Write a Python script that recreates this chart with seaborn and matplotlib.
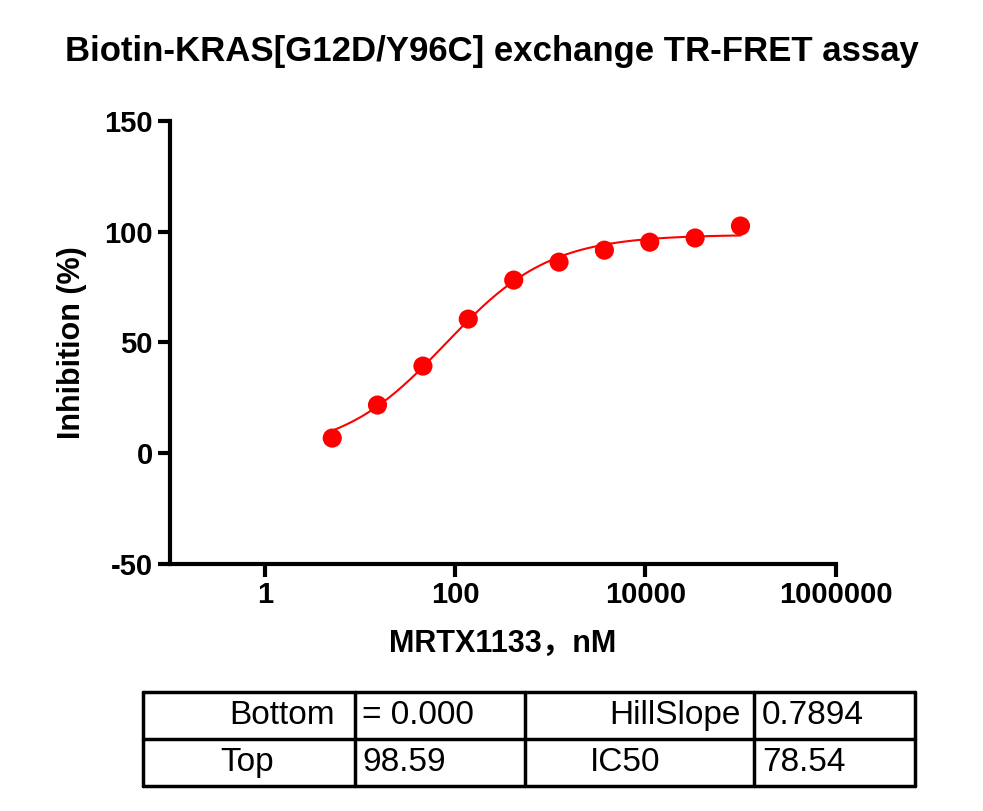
import numpy as np
import pandas as pd
import matplotlib.pyplot as plt
import seaborn as sns
from matplotlib.lines import Line2D

sns.set_style("ticks")
plt.rcParams['font.family'] = ['Liberation Sans', 'DejaVu Sans']
plt.rcParams['axes.unicode_minus'] = False
plt.rcParams['text.color'] = 'black'
plt.rcParams['axes.labelcolor'] = 'black'
plt.rcParams['xtick.color'] = 'black'
plt.rcParams['ytick.color'] = 'black'
plt.rcParams['axes.edgecolor'] = 'black'

# concentrations (nM) and inhibition (%)
conc = [5.08, 15.2, 45.7, 137, 412, 1235, 3704, 11111, 33333, 100000]
inhibition = [6.8, 21.7, 39.3, 60.5, 78.1, 86.2, 91.6, 95.2, 97.1, 102.5]

# fit parameters
bottom, top, hill, ic50 = 0.0, 98.59, 0.7894, 78.54
table_rows = [["Bottom", "= 0.000", "HillSlope", "0.7894"],
              ["Top", "98.59", "IC50", "78.54"]]

df = pd.DataFrame({"conc": conc, "inh": inhibition})
xs = np.logspace(np.log10(min(conc)), np.log10(max(conc)), 300)
fit = pd.DataFrame({"conc": xs,
                    "inh": bottom + (top - bottom) / (1 + (ic50 / xs) ** hill)})

fig = plt.figure(figsize=(9.83, 8.11), dpi=100)
ax = fig.add_axes([0.173, 0.3046, 0.677, 0.5465])
sns.lineplot(data=fit, x="conc", y="inh", color="#ff0000", lw=1.5, ax=ax)
sns.scatterplot(data=df, x="conc", y="inh", color="#ff0000", s=190,
                edgecolor="none", ax=ax, zorder=3)
ax.set_xscale("log")
ax.set_xlim(0.1, 1e6)
ax.set_ylim(-50, 150)
ax.set_xticks([1, 100, 10000, 1000000])
ax.set_xticklabels(["1", "100", "10000", "1000000"])
ax.minorticks_off()
ax.set_yticks([-50, 0, 50, 100, 150])
for s in ["top", "right"]:
    ax.spines[s].set_visible(False)
for s in ["left", "bottom"]:
    ax.spines[s].set_linewidth(3)
ax.tick_params(width=3, length=9, labelsize=21, direction="out")
for t in ax.get_xticklabels() + ax.get_yticklabels():
    t.set_fontweight("bold")
ax.set_xlabel("MRTX1133，nM", fontsize=22, fontweight="bold", labelpad=14,
              family=['Liberation Sans', 'Noto Sans CJK SC'])
ax.set_ylabel("Inhibition (%)", fontsize=22, fontweight="bold", labelpad=12)
fig.text(0.5, 0.936, "Biotin-KRAS[G12D/Y96C] exchange TR-FRET assay",
         ha="center", va="center", fontsize=25, fontweight="bold")

# parameter table
W, H = 983, 811
xb = [143, 355, 525, 754, 915]
yb = [692, 739, 786]
def fx(p): return p / W
def fy(p): return 1 - p / H
for y in yb:
    fig.add_artist(Line2D([fx(xb[0]), fx(xb[-1])], [fy(y), fy(y)],
                          color="black", lw=2.5, transform=fig.transFigure))
for x in xb:
    fig.add_artist(Line2D([fx(x), fx(x)], [fy(yb[0]), fy(yb[-1])],
                          color="black", lw=2.5, transform=fig.transFigure))
text_x = [(220, "left"), (362, "left"), (741, "right"), (762, "left")]
for r, row in enumerate(table_rows):
    yc = (yb[r] + yb[r + 1]) / 2
    for c, val in enumerate(row):
        px, ha = text_x[c]
        if r == 0 and c == 0:
            px, ha = 335, "right"
        if r == 1 and c == 2:
            px, ha = 590, "left"
        fig.text(fx(px), fy(yc), val, ha=ha, va="center", fontsize=24)

fig.savefig("out.png", dpi=100)
